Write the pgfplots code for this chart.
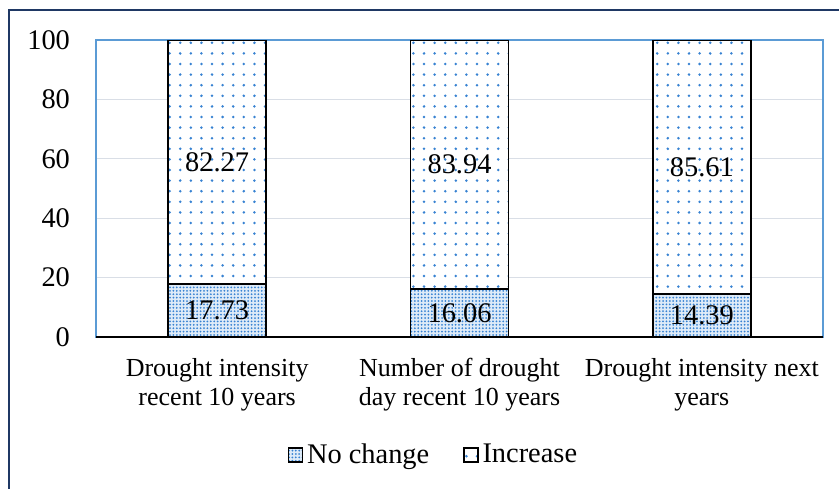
\documentclass[border=0pt]{standalone}
\usepackage{pgfplots}
\pgfplotsset{compat=1.18}
\usepackage{fontspec}
\setmainfont{Liberation Serif}
\usetikzlibrary{patterns.meta}
\definecolor{frameblue}{RGB}{31,56,100}
\definecolor{axisblue}{RGB}{91,155,213}
\definecolor{gridgray}{RGB}{217,222,230}
\definecolor{dotblue}{RGB}{55,130,210}
\definecolor{paleblue}{RGB}{222,235,248}
\definecolor{baseline}{RGB}{30,40,60}

% No change / Increase shares per question
\pgfplotstableread{
x nochange increase
0 17.73 82.27
1 16.06 83.94
2 14.39 85.61
}\drought

\begin{document}
\begin{tikzpicture}[font=\fontsize{14.2}{16}\selectfont]
\useasboundingbox (0,0) rectangle (419.5pt,244pt);
\draw[frameblue, line width=1pt] (4.25pt,-5pt) -- (4.25pt,238.75pt) -- (430pt,238.75pt);
\begin{axis}[
  at={(48pt,75.5pt)}, anchor=south west,
  scale only axis, width=363.5pt, height=148.5pt,
  ybar stacked, bar width=49pt,
  xmin=-0.5, xmax=2.5, ymin=0, ymax=100,
  xtick={0,1,2},
  xticklabels={{Drought intensity\\recent 10 years},{Number of drought\\day recent 10 years},{Drought intensity next\\years}},
  xticklabel style={align=center, yshift=-7pt, font=\fontsize{13}{14.5}\selectfont},
  ytick={0,20,...,100},
  yticklabel style={xshift=-9.5pt},
  major tick length=0pt,
  ymajorgrids, grid style={gridgray, line width=0.5pt},
  axis line style={axisblue, line width=0.75pt},
  /pgf/number format/assume math mode=true,
  /pgf/number format/.cd, fixed, precision=2, fixed zerofill, /pgfplots/.cd,
  yticklabel={\pgfmathprintnumber[fixed, precision=0]{\tick}},
  point meta=rawy,
  nodes near coords,
  nodes near coords style={anchor=center, text=black},
  legend style={at={(0.4656,-0.397)}, anchor=center, draw=none, fill=none,
    legend columns=2, /tikz/every even column/.append style={column sep=15pt}},
  legend image code/.code={\draw[#1, draw=black, line width=0.6pt] (0pt,-3.5pt) rectangle (7pt,3.5pt);},
]
\addplot[draw=black, line width=0.9pt, fill=paleblue,
  postaction={pattern={Dots[distance=1.7pt, radius=0.5pt]}, pattern color=dotblue}]
  table[x=x, y=nochange] {\drought};
\addlegendentry{No change}
\addplot[draw=black, line width=0.9pt, fill=white,
  postaction={pattern={Dots[distance=5.3pt, radius=0.7pt]}, pattern color=dotblue}]
  table[x=x, y=increase] {\drought};
\addlegendentry{Increase}
\draw[baseline, line width=0.9pt] (rel axis cs:0,0) -- (rel axis cs:1,0);
\end{axis}
\end{tikzpicture}
\end{document}
